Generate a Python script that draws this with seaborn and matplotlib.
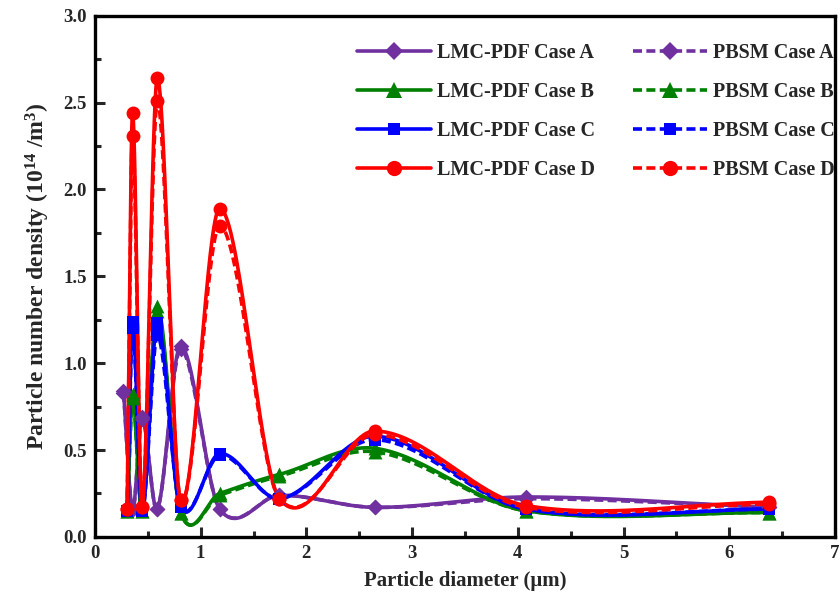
import numpy as np
import pandas as pd
import seaborn as sns
from matplotlib import pyplot as plt
from matplotlib.lines import Line2D
from matplotlib.ticker import MultipleLocator

sns.set_theme(style="ticks")
plt.rcParams['font.family'] = ['Liberation Serif', 'DejaVu Serif']
plt.rcParams['font.weight'] = 'bold'
plt.rcParams['axes.labelweight'] = 'bold'
plt.rcParams['mathtext.fontset'] = 'custom'
plt.rcParams['mathtext.rm'] = 'Liberation Serif:bold'
plt.rcParams['mathtext.it'] = 'Liberation Serif:bold'
plt.rcParams['mathtext.bf'] = 'Liberation Serif:bold'

# particle diameter (um) of each size bin
diam = [0.305, 0.356, 0.446, 0.59, 0.81, 1.18, 1.745, 2.65, 4.08, 6.38]
diam_a = [0.27, 0.356, 0.446, 0.59, 0.81, 1.18, 1.745, 2.65, 4.08, 6.38]

# number density, 10^14 /m^3
lmc_a = [0.84, 0.16, 0.69, 0.16, 1.10, 0.16, 0.24, 0.17, 0.23, 0.17]
pbsm_a = [0.83, 0.16, 0.68, 0.16, 1.08, 0.16, 0.24, 0.17, 0.22, 0.17]
lmc_b = [0.15, 0.82, 0.15, 1.33, 0.14, 0.25, 0.36, 0.51, 0.15, 0.14]
pbsm_b = [0.15, 0.80, 0.15, 1.30, 0.14, 0.24, 0.35, 0.49, 0.15, 0.14]
lmc_c = [0.15, 1.24, 0.15, 1.23, 0.17, 0.48, 0.22, 0.58, 0.16, 0.16]
pbsm_c = [0.15, 1.20, 0.15, 1.16, 0.17, 0.47, 0.22, 0.56, 0.16, 0.16]
lmc_d = [0.16, 2.44, 0.17, 2.64, 0.21, 1.89, 0.22, 0.61, 0.18, 0.20]
pbsm_d = [0.16, 2.31, 0.17, 2.51, 0.21, 1.79, 0.22, 0.59, 0.17, 0.19]

cases = ['A', 'B', 'C', 'D']
colors = {'A': '#7030A0', 'B': '#008000', 'C': '#0000FF', 'D': '#FF0000'}
markers = {'A': 'D', 'B': '^', 'C': 's', 'D': 'o'}
msize = {'A': 8, 'B': 10, 'C': 8, 'D': 10}
series = {
    'A': (diam_a, lmc_a, pbsm_a),
    'B': (diam, lmc_b, pbsm_b),
    'C': (diam, lmc_c, pbsm_c),
    'D': (diam, lmc_d, pbsm_d),
}


def spline_line(xs, ys, n=60, tension=0.1):
    # cardinal hermite spline through the points, like Origin's spline connect
    xs = np.asarray(xs, float)
    ys = np.asarray(ys, float)
    m = np.empty_like(ys)
    m[1:-1] = (ys[2:] - ys[:-2]) / (xs[2:] - xs[:-2])
    m[0] = (ys[1] - ys[0]) / (xs[1] - xs[0])
    m[-1] = (ys[-1] - ys[-2]) / (xs[-1] - xs[-2])
    m[1:-1] *= (1 - tension)
    t = np.linspace(0, 1, n)
    h00 = 2 * t**3 - 3 * t**2 + 1
    h10 = t**3 - 2 * t**2 + t
    h01 = -2 * t**3 + 3 * t**2
    h11 = t**3 - t**2
    px, py = [], []
    for i in range(len(xs) - 1):
        h = xs[i + 1] - xs[i]
        px.append(xs[i] + t * h)
        py.append(h00 * ys[i] + h10 * h * m[i] + h01 * ys[i + 1] + h11 * h * m[i + 1])
    return pd.DataFrame({'x': np.concatenate(px), 'y': np.concatenate(py)})


dash = (0, (2.5, 1.2))

fig = plt.figure(figsize=(8.4, 6.06), dpi=100)
ax = fig.add_axes([0.113, 0.114, 0.881, 0.86])

for c in cases:
    xs, lmc, pbsm = series[c]
    col = colors[c]
    sns.lineplot(data=spline_line(xs, pbsm), x='x', y='y', sort=False, estimator=None,
                 color=col, lw=2.6, ax=ax, linestyle=dash)
    sns.scatterplot(x=xs, y=pbsm, marker=markers[c], s=msize[c]**2, color=col,
                    edgecolor=col, linewidth=0, ax=ax, zorder=3)
    sns.lineplot(data=spline_line(xs, lmc), x='x', y='y', sort=False, estimator=None,
                 color=col, lw=2.6, ax=ax)
    sns.scatterplot(x=xs, y=lmc, marker=markers[c], s=msize[c]**2, color=col,
                    edgecolor=col, linewidth=0, ax=ax, zorder=3)

ax.set_xlim(0, 7)
ax.set_ylim(0, 3.0)
ax.xaxis.set_major_locator(MultipleLocator(1))
ax.xaxis.set_minor_locator(MultipleLocator(0.5))
ax.yaxis.set_minor_locator(MultipleLocator(0.25))
ax.set_yticks(np.arange(0, 3.01, 0.5))
ax.set_yticklabels([f'{v:.1f}' for v in np.arange(0, 3.01, 0.5)])
ax.tick_params(which='major', direction='in', length=7, width=2.2, labelsize=13.5, pad=6)
ax.tick_params(which='minor', direction='in', length=4, width=2.2)
for lab in ax.get_xticklabels() + ax.get_yticklabels():
    lab.set_fontweight('bold')
for sp in ax.spines.values():
    sp.set_linewidth(2.4)
    sp.set_color('black')

ax.set_xlabel('Particle diameter (\u03bcm)', fontsize=15, fontweight='bold', labelpad=6)
ax.set_ylabel('Particle number density (10$^{14}$ /m$^{3}$)', fontsize=17,
              fontweight='bold', labelpad=8)

handles, labels = [], []
for kind, ls in [('LMC-PDF', '-'), ('PBSM', dash)]:
    for c in cases:
        handles.append(Line2D([], [], color=colors[c], lw=2.6, linestyle=ls,
                              marker=markers[c], markersize=msize[c] + 1,
                              markeredgewidth=0))
        labels.append(f'{kind} Case {c}')
ax.legend(handles, labels, ncol=2, loc='upper right', frameon=False,
          handlelength=3.7, labelspacing=0.95, columnspacing=1.85,
          handletextpad=0.3, borderaxespad=0.0, borderpad=0.0,
          bbox_to_anchor=(1.0, 0.948), prop={'weight': 'bold', 'size': 14.5})

fig.savefig('out.png', dpi=100)
